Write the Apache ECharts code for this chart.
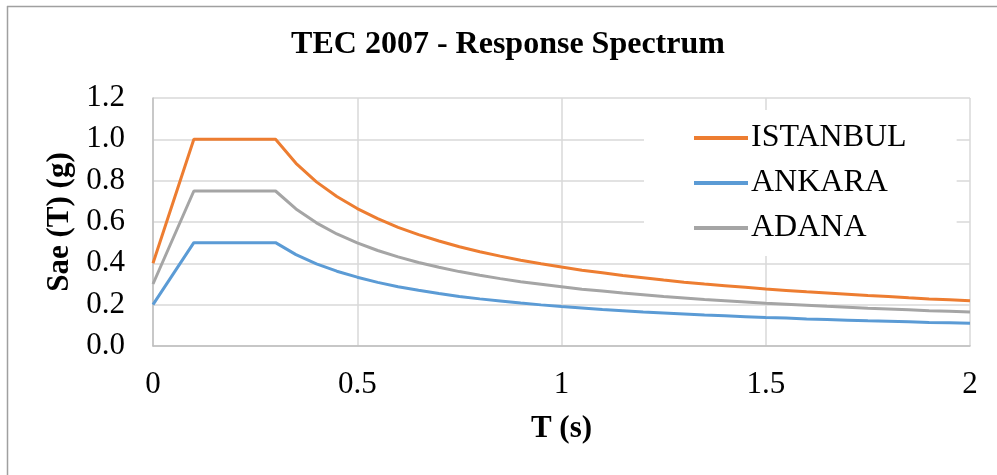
<!DOCTYPE html>
<html><head><meta charset="utf-8">
<script src="https://cdn.jsdelivr.net/npm/echarts@6/dist/echarts.min.js"></script>
<style>html,body{margin:0;padding:0;background:#fff}#c{width:997px;height:475px}</style>
</head><body><div id="c"></div>
<script>
const periods = [0,0.1,0.3,0.35,0.4,0.45,0.5,0.55,0.6,0.65,0.7,0.75,0.8,0.85,0.9,0.95,1.0,1.05,1.1,1.15,1.2,1.25,1.3,1.35,1.4,1.45,1.5,1.55,1.6,1.65,1.7,1.75,1.8,1.85,1.9,1.95,2.0];
const istanbul = [0.4,1.0,1.0,0.884,0.794,0.723,0.665,0.616,0.574,0.539,0.508,0.480,0.456,0.435,0.415,0.398,0.382,0.367,0.354,0.341,0.330,0.319,0.309,0.300,0.292,0.284,0.276,0.269,0.262,0.256,0.250,0.244,0.239,0.233,0.228,0.224,0.219];
const ankara = [0.2,0.5,0.5,0.442,0.397,0.362,0.333,0.308,0.287,0.270,0.254,0.240,0.228,0.218,0.208,0.199,0.191,0.184,0.177,0.171,0.165,0.160,0.155,0.150,0.146,0.142,0.138,0.135,0.131,0.128,0.125,0.122,0.120,0.117,0.114,0.112,0.110];
const adana = [0.3,0.75,0.75,0.663,0.596,0.542,0.499,0.462,0.431,0.404,0.381,0.360,0.342,0.326,0.311,0.299,0.287,0.275,0.266,0.256,0.248,0.239,0.232,0.225,0.219,0.213,0.207,0.202,0.197,0.192,0.188,0.183,0.179,0.175,0.171,0.168,0.164];
const seriesNames = ['ISTANBUL','ANKARA','ADANA'];
const titleText = 'TEC 2007 - Response Spectrum';
const xName = 'T (s)';
const yName = 'Sae (T) (g)';

const font = 'Liberation Serif';
const zip = arr => periods.map((t,i)=>[t,arr[i]]);
const colors = ['#ED7D31','#5B9BD5','#A5A5A5'];
const chart = echarts.init(document.getElementById('c'));
chart.setOption({
  animation:false,
  backgroundColor:'#fff',
  title:{text:titleText,left:503,top:24,textAlign:'center',
    textStyle:{fontFamily:font,fontSize:32,fontWeight:'bold',color:'#000'}},
  grid:{left:153,top:98,right:27,bottom:129},
  legend:{orient:'vertical',left:644,top:110,padding:[12,50,12,50],itemGap:13,
    backgroundColor:'#fff',icon:'rect',itemWidth:54,itemHeight:4,
    textStyle:{fontFamily:font,fontSize:32,color:'#000',lineHeight:32,padding:[0,0,0,-2]},
    data:seriesNames},
  xAxis:{type:'value',min:0,max:2,interval:0.5,
    name:xName,nameLocation:'middle',nameGap:67,
    nameTextStyle:{fontFamily:font,fontSize:31,fontWeight:'bold',color:'#000'},
    axisLine:{lineStyle:{color:'#bfbfbf',width:1.5}},axisTick:{show:false},
    axisLabel:{fontFamily:font,fontSize:31,color:'#000',margin:23},
    splitLine:{lineStyle:{color:'#d9d9d9',width:1.5}}},
  yAxis:{type:'value',min:0,max:1.2,interval:0.2,
    name:yName,nameLocation:'middle',nameGap:75,
    nameTextStyle:{fontFamily:font,fontSize:31,fontWeight:'bold',color:'#000'},
    axisLine:{show:true,lineStyle:{color:'#bfbfbf',width:1.5}},axisTick:{show:false},
    axisLabel:{fontFamily:font,fontSize:31,color:'#000',margin:28,formatter:v=>v.toFixed(1)},
    splitLine:{lineStyle:{color:'#d9d9d9',width:1.5}}},
  series:[
    {name:seriesNames[0],type:'line',data:zip(istanbul),showSymbol:false,symbol:'none',lineStyle:{width:3,color:colors[0]},itemStyle:{color:colors[0]},z:3},
    {name:seriesNames[1],type:'line',data:zip(ankara),showSymbol:false,symbol:'none',lineStyle:{width:3,color:colors[1]},itemStyle:{color:colors[1]},z:3},
    {name:seriesNames[2],type:'line',data:zip(adana),showSymbol:false,symbol:'none',lineStyle:{width:3,color:colors[2]},itemStyle:{color:colors[2]},z:3}
  ],
  graphic:[
    {type:'line',shape:{x1:7.5,y1:6,x2:7.5,y2:475},style:{stroke:'#a0a0a0',lineWidth:1.5},silent:true},
    {type:'line',shape:{x1:7,y1:6.5,x2:997,y2:6.5},style:{stroke:'#a0a0a0',lineWidth:1.5},silent:true}
  ]
});
</script></body></html>
